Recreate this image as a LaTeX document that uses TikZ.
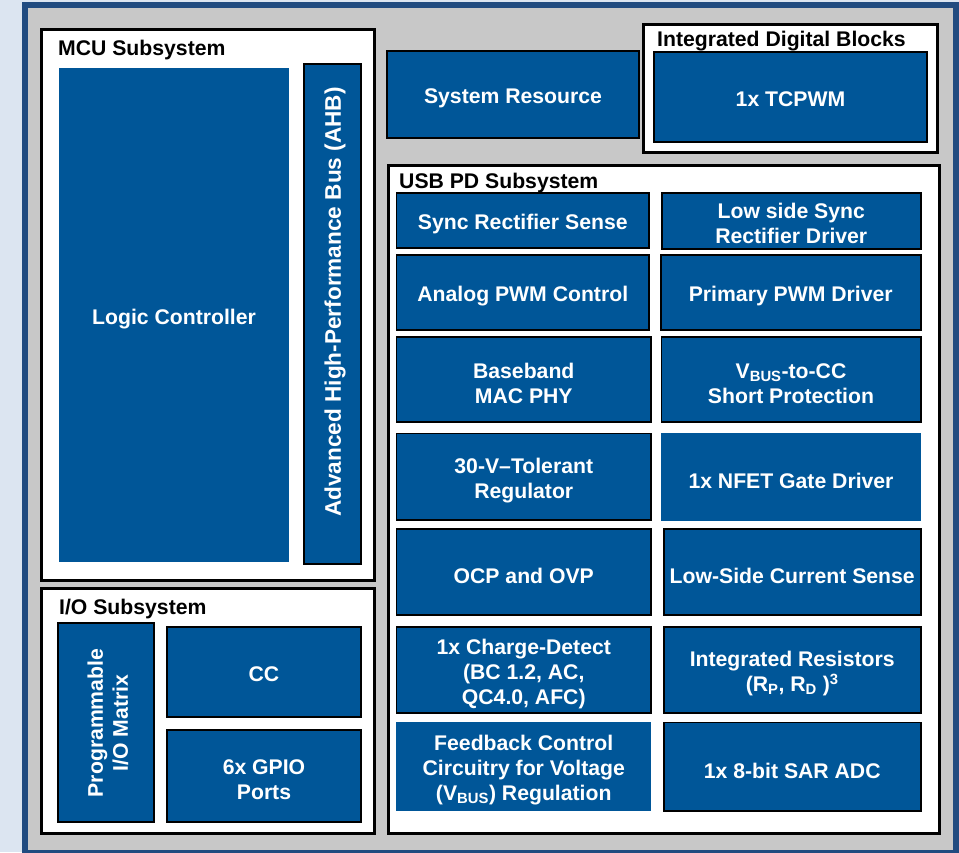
\documentclass[tikz,border=0pt]{standalone}
\usepackage{fontspec}
\setmainfont{Liberation Sans}
\definecolor{pagebg}{RGB}{220,229,241}
\definecolor{frameblue}{RGB}{33,75,128}
\definecolor{panelgray}{RGB}{200,200,200}
\definecolor{blockblue}{RGB}{0,86,152}
\tikzset{
  labelfont/.style={font=\fontsize{21.2}{25}\selectfont\bfseries},
  blockbase/.style={fill=blockblue, inner sep=0pt},
  blk/.style={blockbase, draw=black, line width=1.8pt},
  blkplain/.style={blockbase, draw=none},
  blocktext/.style={labelfont, text=white, inner sep=0pt, align=center},
  groupbox/.style={fill=white, draw=black, line width=2.6pt, inner sep=0pt},
  grouptitle/.style={labelfont, anchor=base west, inner sep=0pt, text=black},
}
% box from corner (x1,y1) to corner (x2,y2), with its label set a little
% below the geometric centre (optional argument: the drop, default 4pt)
\newcommand{\placeblock}[8][-4pt]{%
  \pgfmathsetmacro\pbcx{(#4+#6)/2}%
  \pgfmathsetmacro\pbcy{(#5+#7)/2}%
  \pgfmathsetmacro\pbw{#6-#4-1.8}%
  \pgfmathsetmacro\pbh{#7-#5-1.8}%
  \node[#2, minimum width=\pbw pt, minimum height=\pbh pt] (#3) at (\pbcx,\pbcy) {};%
  \node[blocktext] (#3-text) at ([yshift=#1]#3.center) {#8};%
}
\begin{document}
\begin{tikzpicture}[x=1pt, y=-1pt]
\useasboundingbox (0,0) rectangle (959,852);
\clip (0,0) rectangle (959,852);
\fill[pagebg] (0,0) rectangle (959,852);
% outer chip frame
\draw[fill=panelgray, draw=frameblue, line width=6pt] (24.5,4.5) rectangle (956,853);

% group panels
\node[groupbox, minimum width=333.4pt, minimum height=551.4pt] (mcu) at (208,305) {};
\node[groupbox, minimum width=333.4pt, minimum height=245.4pt] (io) at (208,711) {};
\node[groupbox, minimum width=294.4pt, minimum height=128.4pt] (idb) at (790.5,88.5) {};
\node[groupbox, minimum width=551.4pt, minimum height=668.4pt] (usbpd) at (664,499.5) {};

\node[grouptitle] (mcut) at (58,55) {MCU Subsystem};
\node[grouptitle] (iot) at (59,614) {I/O Subsystem};
\node[grouptitle] (idbt) at (657,46) {Integrated Digital Blocks};
\node[grouptitle] (usbt) at (399,188) {USB PD Subsystem};

% MCU subsystem
\placeblock{blkplain}{logic}{58}{67}{290}{563}{Logic Controller}
\placeblock{blk}{ahb}{303}{63}{362}{565}{}
\node[blocktext, font=\fontsize{22.6}{25}\selectfont\bfseries, rotate=90] (ahbt) at (335,302) {Advanced High-Performance Bus (AHB)};

% I/O subsystem
\placeblock{blk}{iomx}{57}{622}{155}{823}{}
\node[blocktext, rotate=90] (iomxt) at (108,723) {Programmable\\I/O Matrix};
\placeblock[-2pt]{blk}{cc}{166}{626}{362}{718}{CC}
\placeblock{blk}{gpio}{166}{729}{362}{823}{6x GPIO\\Ports}

% top row
\placeblock{blk}{sysres}{386}{50}{640}{139}{System Resource}
\placeblock[-2pt]{blk}{tcpwm}{653}{51}{928}{143}{1x TCPWM}

% USB PD subsystem, left column
\placeblock{blk}{syncsense}{395.5}{192}{650}{249}{Sync Rectifier Sense}
\placeblock{blk}{apwm}{395.5}{254}{650}{331}{Analog PWM Control}
\placeblock{blk}{bb}{395.5}{336}{652}{423}{Baseband\\MAC PHY}
\placeblock{blk}{reg}{395.5}{432.5}{652}{521}{30-V–Tolerant\\Regulator}
\placeblock{blk}{ocp}{395.5}{528}{652}{616}{OCP and OVP}
\placeblock{blk}{chg}{395.5}{626}{652}{713.5}{1x Charge-Detect\\(BC 1.2, AC,\\QC4.0, AFC)}
\placeblock{blkplain}{fb}{395.5}{721}{652}{811.5}{Feedback Control\\Circuitry for Voltage\\(V\textsubscript{BUS}) Regulation}

% USB PD subsystem, right column
\placeblock[-2pt]{blk}{lsdrv}{661}{192}{921.5}{250}{Low side Sync\\Rectifier Driver}
\placeblock{blk}{ppwm}{660}{254}{921.5}{331}{Primary PWM Driver}
\placeblock{blk}{vbuscc}{660.5}{336}{921.5}{423}{V\textsubscript{BUS}-to-CC\\Short Protection}
\placeblock{blkplain}{nfet}{660.5}{432}{921.5}{521.5}{1x NFET Gate Driver}
\placeblock{blk}{lscs}{663}{528}{921.5}{616}{Low-Side Current Sense}
\placeblock{blk}{ires}{663}{626}{921.5}{713.5}{Integrated Resistors\\(R\textsubscript{P}, R\textsubscript{D} )\textsuperscript{3}}
\placeblock{blk}{adc}{663}{721.5}{921.5}{811.5}{1x 8-bit SAR ADC}
\end{tikzpicture}
\end{document}
